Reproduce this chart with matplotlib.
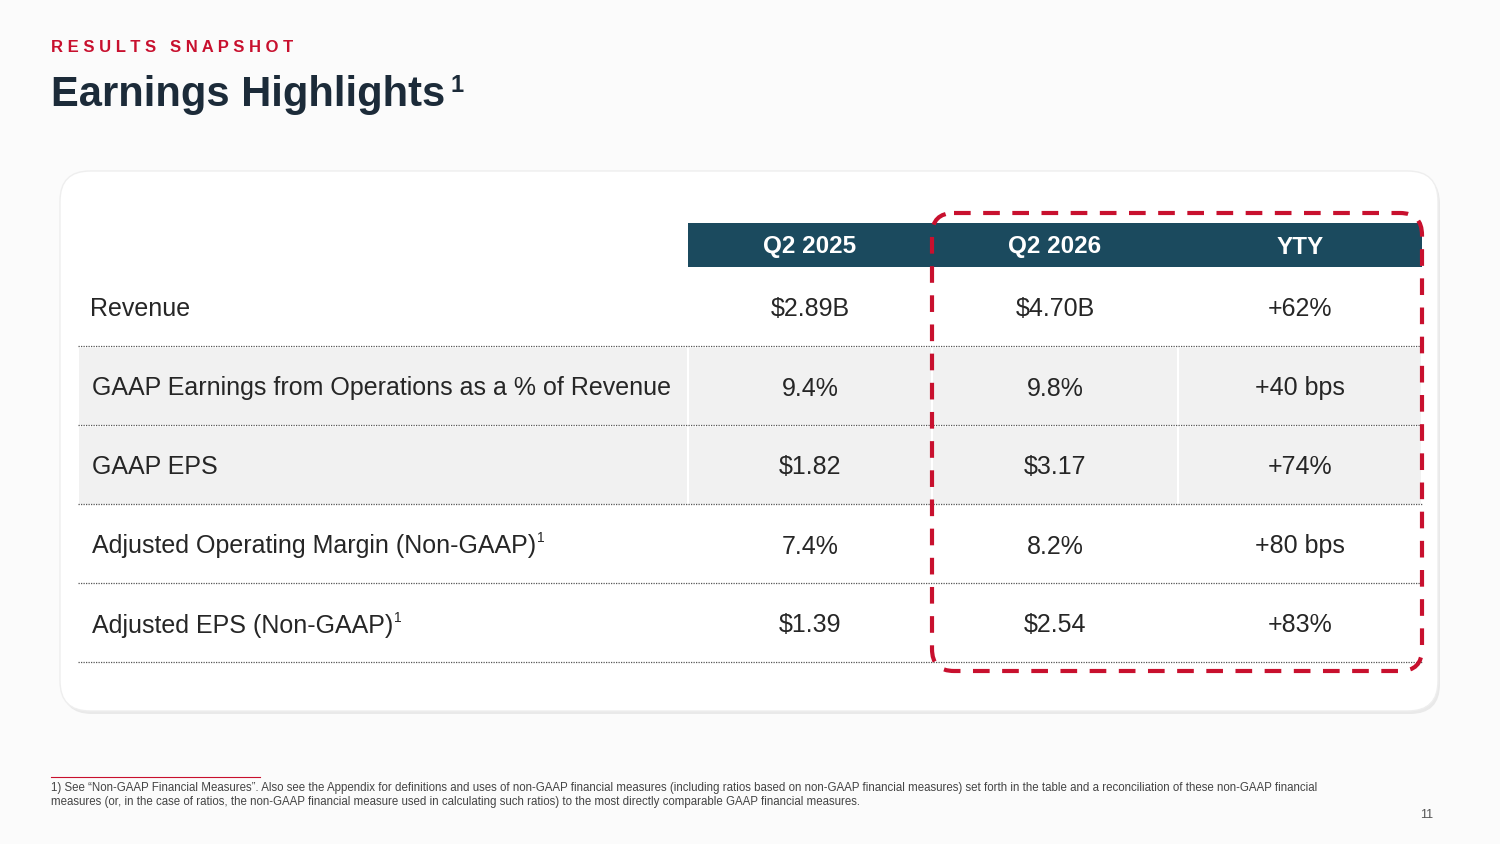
import matplotlib.pyplot as plt
from matplotlib.patches import FancyBboxPatch, Rectangle

# ---------- data ----------
columns = ['Q2 2025', 'Q2 2026', 'YTY']
rows = [
    ('Revenue', '', ['$2.89B', '$4.70B', '+62%'], False),
    ('GAAP Earnings from Operations as a % of Revenue', '', ['9.4%', '9.8%', '+40 bps'], True),
    ('GAAP EPS', '', ['$1.82', '$3.17', '+74%'], True),
    ('Adjusted Operating Margin (Non-GAAP)', '1', ['7.4%', '8.2%', '+80 bps'], False),
    ('Adjusted EPS (Non-GAAP)', '1', ['$1.39', '$2.54', '+83%'], False),
]

RED = '#c8102e'
TEAL = '#1b4a5e'
NAVY = '#1c2b39'
FONT = 'Liberation Sans'

fig = plt.figure(figsize=(15, 8.44), dpi=100)
fig.patch.set_facecolor('#fbfbfb')
ax = fig.add_axes([0, 0, 1, 1])
ax.set_xlim(0, 1500)
ax.set_ylim(844, 0)
ax.axis('off')

# ---------- titles ----------
ax.text(51, 47, 'R E S U L T S   S N A P S H O T', color=RED, fontsize=12,
        fontweight='bold', va='center', family=FONT)
ax.text(51, 95, 'Earnings Highlights', color=NAVY, fontsize=30,
        fontweight='bold', va='center', family=FONT)
ax.text(450, 86, '1', color=NAVY, fontsize=17, fontweight='bold',
        va='center', family=FONT)

# ---------- card ----------
ax.add_patch(FancyBboxPatch((62, 174), 1378, 540, boxstyle='round,pad=0,rounding_size=30',
                            fc='#e9e9e9', ec='none', zorder=1))
ax.add_patch(FancyBboxPatch((60, 171), 1378, 540, boxstyle='round,pad=0,rounding_size=30',
                            fc='white', ec='#eeeeee', lw=1, zorder=2))

# ---------- header ----------
col_x = [810, 1055, 1300]
col_edges = [688, 932, 1178, 1422]
ax.add_patch(Rectangle((688, 223), 734, 44, fc=TEAL, ec='none', zorder=3))
for x, c in zip(col_x, columns):
    ax.text(x, 247, c, color='white', fontsize=17.5, fontweight='bold',
            ha='center', va='center', zorder=4, family=FONT)

# ---------- rows ----------
row_top = 268
row_h = 79
for i, (label, sup, vals, shaded) in enumerate(rows):
    y0 = row_top + i * row_h
    yc = y0 + row_h / 2 + 2
    if shaded:
        ax.add_patch(Rectangle((79, y0 + 1), 608, row_h - 2, fc='#f1f1f1', ec='none', zorder=3))
        for a, b in zip(col_edges[:-1], col_edges[1:]):
            ax.add_patch(Rectangle((a + 1, y0 + 1), b - a - 2, row_h - 2,
                                   fc='#f1f1f1', ec='none', zorder=3))
    lx = 90 if i == 0 else 92
    t = ax.text(lx, yc, label, fontsize=18, color='#262626', va='center', zorder=4,
                family=FONT)
    if sup:
        fig.canvas.draw()
        bb = t.get_window_extent().transformed(ax.transData.inverted())
        ax.text(bb.x1 + 1, yc - 8, sup, fontsize=10, color='#262626', va='center',
                zorder=4, family=FONT)
    for x, v in zip(col_x, vals):
        ax.text(x, yc, v, fontsize=18, color='#262626', ha='center', va='center',
                zorder=4, family=FONT)
    ax.plot([78, 1422], [y0 + row_h - 1, y0 + row_h - 1], color='#555555', lw=0.9,
            ls=(0, (1, 1)), zorder=4)

# ---------- red dashed highlight ----------
ax.add_patch(FancyBboxPatch((932, 213), 490, 458, boxstyle='round,pad=0,rounding_size=22',
                            fc='none', ec=RED, lw=3, ls=(0, (4, 3)), zorder=5))

# ---------- footnote ----------
ax.plot([51, 260], [777, 777], color=RED, lw=0.8)
ax.text(51, 788, '1) See \u201cNon-GAAP Financial Measures\u201d. Also see the Appendix for definitions and uses of '
        'non-GAAP financial measures (including ratios based on non-GAAP financial measures) set forth in the table '
        'and a reconciliation of these non-GAAP financial', fontsize=8.3, color='#444444', va='center',
        family=FONT)
ax.text(51, 802, 'measures (or, in the case of ratios, the non-GAAP financial measure used in calculating such ratios) '
        'to the most directly comparable GAAP financial measures.', fontsize=8.3, color='#444444', va='center',
        family=FONT)
ax.text(1433, 815, '11', fontsize=9, color='#555555', ha='right', va='center', family=FONT)

fig.savefig('out.png', dpi=100)
